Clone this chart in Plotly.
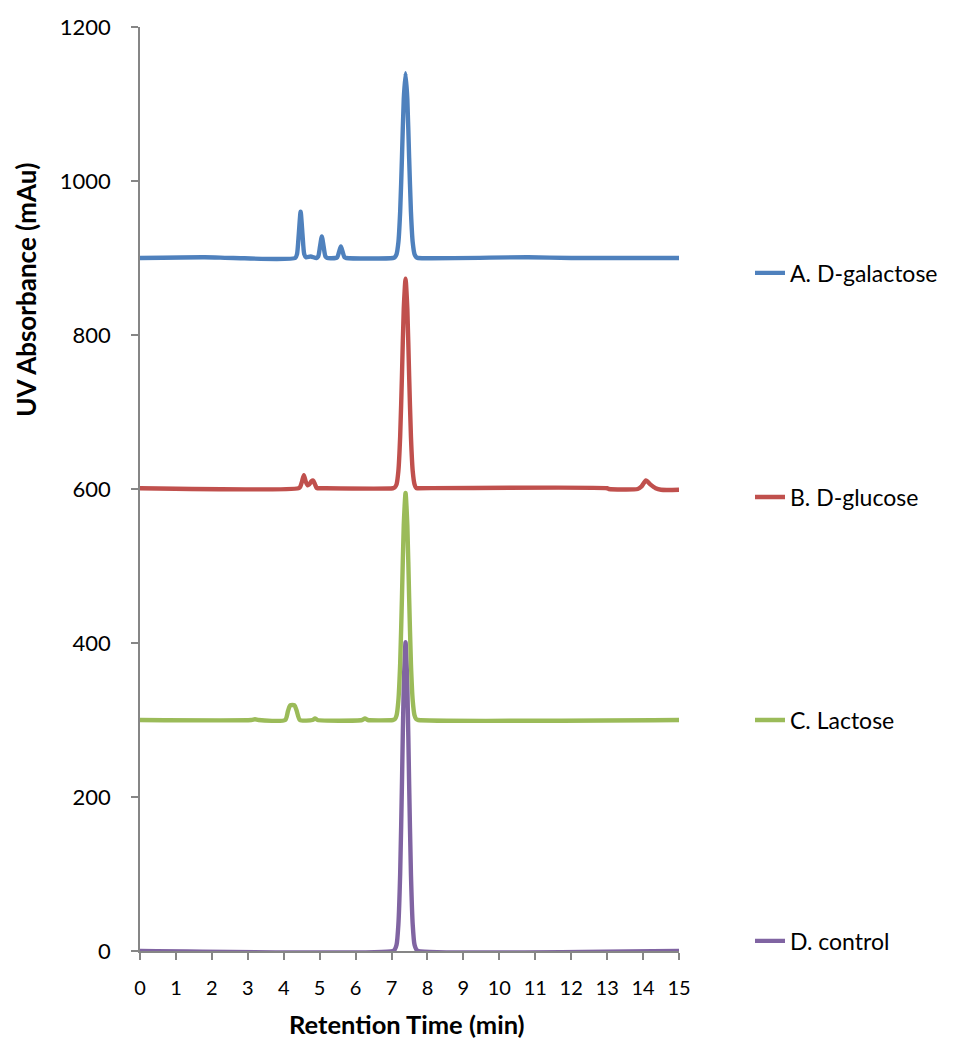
import plotly.graph_objects as go

# Retention time (min) and absorbance (mAu)
a_time = [0, 1.8, 2.6, 4.32, 4.37, 4.42, 4.47, 4.52, 4.57, 4.62, 4.75, 4.91, 4.96, 5.01, 5.06, 5.11, 5.16, 5.21,
          5.44, 5.49, 5.54, 5.59, 5.64, 5.69, 5.74,
          7.04, 7.09, 7.14, 7.19, 7.24, 7.29, 7.34, 7.39, 7.44, 7.49, 7.54, 7.59, 7.64, 7.69, 7.74,
          10.8, 12.0, 15]
a_abs = [900, 901, 900, 900, 905, 932, 960, 932, 905, 901, 902, 900, 902, 915, 928, 915, 902, 900,
         900, 901, 908, 915, 908, 901, 900,
         900, 901, 905, 920, 960, 1030, 1106, 1140, 1106, 1030, 960, 920, 905, 901, 900,
         901, 900, 900]

b_time = [0, 4.41, 4.46, 4.51, 4.56, 4.61, 4.66, 4.71, 4.77, 4.82, 4.87, 4.92, 4.97,
          7.04, 7.09, 7.14, 7.19, 7.24, 7.29, 7.34, 7.39, 7.44, 7.49, 7.54, 7.59, 7.64, 7.69, 7.74,
          13.0, 13.05, 13.85, 13.95, 14.08, 14.2, 14.35, 14.5, 15]
b_abs = [601, 601, 603, 610, 618, 610, 605, 606, 610, 611, 606, 601, 601,
         601, 602, 606, 623, 668, 747, 834, 873, 834, 747, 668, 623, 606, 601, 601,
         601, 600, 600, 603, 611, 606, 601, 599, 599]

c_time = [0, 3.1, 3.2, 3.3, 4.04, 4.12, 4.18, 4.30, 4.36, 4.45, 4.80, 4.87, 4.94, 6.18, 6.26, 6.34,
          7.04, 7.09, 7.14, 7.19, 7.24, 7.29, 7.34, 7.39, 7.44, 7.49, 7.54, 7.59, 7.64, 7.69, 7.74, 15]
c_abs = [300, 300, 301, 300, 300, 312, 319, 319, 312, 300, 300, 302, 300, 300, 302, 300,
         300, 301, 306, 325, 373, 459, 553, 595, 553, 459, 373, 325, 306, 301, 300, 300]

d_time = [0, 7.04, 7.09, 7.14, 7.19, 7.24, 7.29, 7.34, 7.39, 7.44, 7.49, 7.54, 7.59, 7.64, 7.69, 7.74, 15]
d_abs = [0, 0, 2, 8, 34, 100, 217, 344, 401, 344, 217, 100, 34, 8, 2, 0, 0]

names = ["A. D-galactose", "B. D-glucose", "C. Lactose", "D. control"]
colors = ["#4F81BD", "#C0504D", "#9BBB59", "#8064A2"]
series = [(a_time, a_abs), (b_time, b_abs), (c_time, c_abs), (d_time, d_abs)]

x_ticks = list(range(0, 16))
y_ticks = [0, 200, 400, 600, 800, 1000, 1200]

FONT = "Lato"

fig = go.Figure()
legend_ids = ["legend", "legend2", "legend3", "legend4"]
# draw order: D first so A ends on top like the reference
for i in [3, 2, 1, 0]:
    t, v = series[i]
    fig.add_trace(go.Scatter(
        x=t, y=v, mode="lines", name=names[i],
        line=dict(color=colors[i], width=4.4, shape="spline", smoothing=0.6),
        legend=legend_ids[i],
    ))

legend_y = [0.743, 0.5257, 0.3094, 0.0951]
leg_common = dict(
    xref="container", yref="container",
    x=742 / 958, xanchor="left", yanchor="middle",
    font=dict(family=FONT, size=23, color="#000000"),
    bgcolor="rgba(0,0,0,0)", borderwidth=0,
)
fig.update_layout(
    width=958, height=1031,
    margin=dict(l=132, r=287, t=19, b=88, autoexpand=False),
    paper_bgcolor="white", plot_bgcolor="white",
    showlegend=True,
    legend=dict(y=legend_y[0], **leg_common),
    legend2=dict(y=legend_y[1], **leg_common),
    legend3=dict(y=legend_y[2], **leg_common),
    legend4=dict(y=legend_y[3], **leg_common),
    font=dict(family=FONT, color="#000000"),
    annotations=[
        dict(
            text="<b>UV Absorbance (mAu)</b>", textangle=-90,
            xref="paper", yref="paper", x=-0.212, y=0.7154,
            xanchor="center", yanchor="middle", showarrow=False,
            font=dict(family=FONT, size=26, color="#000000"),
        ),
        dict(
            text="<b>Retention Time (min)</b>",
            xref="paper", yref="paper", x=0.496, y=-0.079,
            xanchor="center", yanchor="middle", showarrow=False,
            font=dict(family=FONT, size=25.5, color="#000000"),
        ),
    ],
)
fig.update_xaxes(
    range=[0, 15], tickvals=x_ticks, ticktext=[str(v) for v in x_ticks],
    showgrid=False, zeroline=False, automargin=False,
    showline=True, linecolor="#868686", linewidth=1.5,
    ticks="outside", ticklen=7, tickcolor="#868686", tickwidth=1.5,
    ticklabelstandoff=11,
    tickfont=dict(family=FONT, size=20, color="#000000"),
)
fig.update_yaxes(
    range=[0, 1200], tickvals=y_ticks, ticktext=[str(v) for v in y_ticks],
    showgrid=False, zeroline=False, automargin=False,
    showline=True, linecolor="#868686", linewidth=1.5,
    ticks="outside", ticklen=7, tickcolor="#868686", tickwidth=1.5,
    ticklabelstandoff=16,
    tickfont=dict(family=FONT, size=22, color="#000000"),
)

fig.write_html("out.html")
